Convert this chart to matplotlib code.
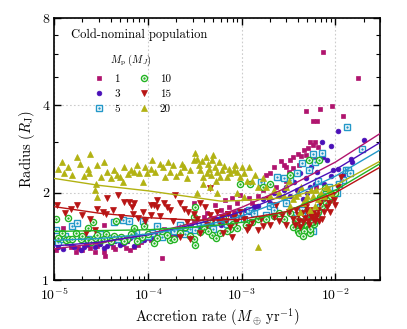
import matplotlib
matplotlib.use("Agg")
import matplotlib.pyplot as plt
from matplotlib.ticker import FixedLocator, LogLocator, NullFormatter, FuncFormatter

plt.rcParams["font.family"] = "serif"
plt.rcParams["font.serif"] = ["cmr10", "DejaVu Serif"]
plt.rcParams["mathtext.fontset"] = "cm"
plt.rcParams["axes.formatter.use_mathtext"] = True

# ---- scatter data: accretion rate (M_earth/yr), radius (R_J)
mdot_1 = [1.05e-5, 1.23e-5, 1.37e-5, 1.7e-5, 1.8e-5, 2.2e-5, 2.4e-5, 2.7e-5, 3.0e-5, 3.4e-5,
          3.4e-5, 3.5e-5, 4.2e-5, 5.0e-5, 5.8e-5, 6.5e-5, 7.1e-5, 8.5e-5, 1.07e-4,
          1.4e-4, 1.2e-4, 1.5e-4, 1.8e-4, 2.2e-4, 2.6e-4, 3.1e-4, 3.1e-4, 3.6e-4, 4.0e-4,
          4.6e-4, 5.2e-4, 5.5e-4, 6.6e-4, 7.0e-4, 7.9e-4, 8.9e-4, 9.7e-4, 9.0e-4, 1.1e-3,
          1.3e-3, 1.5e-3, 1.7e-3, 1.8e-3, 2.0e-3, 2.2e-3, 2.0e-3, 2.4e-3, 2.6e-3, 2.8e-3,
          3.0e-3, 3.0e-3, 3.5e-3, 3.5e-3, 4.0e-3, 4.3e-3, 4.8e-3, 5.1e-3, 5.4e-3, 5.8e-3,
          6.0e-3, 6.5e-3, 4.9e-3, 6.9e-3, 5.7e-3, 6.3e-3, 7.3e-3, 9.3e-3, 1.2e-2, 1.74e-2,
          4.5e-3, 3.8e-3, 6.2e-3,
          1.5e-5, 2.0e-5, 2.9e-5, 4.5e-5, 5.3e-5, 6.0e-5, 7.8e-5, 9.5e-5, 1.3e-4, 1.6e-4,
          2.0e-4, 2.4e-4, 2.9e-4, 3.4e-4, 4.3e-4, 4.9e-4, 6.0e-4, 7.4e-4, 8.3e-4, 1.2e-3,
          1.4e-3, 1.6e-3, 2.3e-3, 3.2e-3, 3.3e-3, 4.1e-3, 4.6e-3, 5.2e-3, 5.6e-3, 6.1e-3]
radius_1 = [1.27, 1.51, 1.34, 1.25, 1.29, 1.32, 1.29, 1.25, 1.33, 1.55,
            1.25, 1.21, 1.30, 1.34, 1.29, 1.27, 1.30, 1.35, 1.37,
            1.19, 1.45, 1.50, 1.42, 1.55, 1.48, 1.84, 1.60, 1.52, 1.65,
            1.58, 1.81, 1.62, 1.88, 1.70, 1.91, 1.84, 1.96, 1.66, 1.75,
            1.85, 1.95, 2.05, 2.30, 2.33, 2.46, 2.15, 2.25, 2.57, 2.49,
            2.45, 2.20, 2.44, 2.66, 2.71, 2.67, 2.69, 2.85, 2.98, 2.92,
            3.00, 2.88, 3.84, 3.90, 3.53, 3.53, 6.09, 3.99, 3.68, 4.98,
            2.55, 2.35, 2.10,
            1.30, 1.27, 1.31, 1.28, 1.33, 1.36, 1.32, 1.40, 1.40, 1.44,
            1.47, 1.50, 1.53, 1.58, 1.70, 1.62, 1.75, 1.78, 1.72, 1.92,
            1.80, 2.20, 2.10, 2.35, 2.60, 2.50, 2.80, 2.60, 2.75, 2.62]

mdot_3 = [1.1e-5, 1.39e-5, 1.64e-5, 1.93e-5, 2.3e-5, 2.7e-5, 3.4e-5, 4.0e-5, 5.1e-5, 6.0e-5,
          7.1e-5, 8.0e-5, 9.1e-5, 1.2e-4, 1.47e-4, 1.7e-4, 2.0e-4, 2.4e-4, 2.8e-4, 3.5e-4,
          4.3e-4, 5.0e-4, 6.0e-4, 7.0e-4, 8.5e-4, 1.0e-3, 1.2e-3, 1.5e-3, 2.0e-3, 2.5e-3,
          3.0e-3, 3.6e-3, 4.2e-3, 4.5e-3, 5.0e-3, 6.0e-3, 6.6e-3, 7.0e-3, 7.2e-3, 7.4e-3,
          8.1e-3, 8.9e-3, 8.9e-3, 1.07e-2, 1.07e-2, 1.2e-2, 1.45e-2, 1.5e-2, 2.0e-2, 5.5e-3,
          4.8e-3,
          1.25e-5, 1.5e-5, 2.1e-5, 2.5e-5, 3.1e-5, 3.7e-5, 4.5e-5, 5.5e-5, 6.5e-5, 7.6e-5,
          1.05e-4, 1.35e-4, 1.85e-4, 2.2e-4, 3.2e-4, 3.9e-4, 4.6e-4, 5.5e-4, 6.5e-4, 7.8e-4,
          9.2e-4, 1.1e-3, 1.35e-3, 1.7e-3, 2.2e-3, 2.8e-3, 3.3e-3, 3.9e-3, 5.3e-3, 6.3e-3,
          7.6e-3, 9.5e-3]
radius_3 = [1.30, 1.35, 1.30, 1.27, 1.33, 1.30, 1.29, 1.34, 1.32, 1.36,
            1.31, 1.38, 1.37, 1.41, 1.45, 1.40, 1.43, 1.47, 1.49, 1.53,
            1.51, 1.58, 1.55, 1.57, 1.64, 1.68, 1.72, 1.80, 1.85, 1.95,
            2.09, 2.18, 2.33, 1.90, 2.00, 2.15, 1.70, 1.95, 2.99, 2.66,
            2.60, 2.90, 2.28, 3.26, 2.42, 2.30, 2.62, 2.55, 3.05, 2.45,
            2.25,
            1.28, 1.32, 1.30, 1.36, 1.33, 1.31, 1.36, 1.34, 1.40, 1.35,
            1.40, 1.42, 1.48, 1.45, 1.50, 1.56, 1.54, 1.62, 1.60, 1.66,
            1.70, 1.75, 1.78, 1.90, 2.00, 2.05, 1.95, 2.05, 2.10, 2.35,
            2.15, 2.40]

mdot_5 = [1.04e-5, 1.1e-5, 1.23e-5, 1.57e-5, 1.77e-5, 2.0e-5, 2.8e-5, 3.5e-5, 4.4e-5, 5.4e-5,
          6.3e-5, 7.5e-5, 8.8e-5, 1.0e-4, 1.25e-4, 1.6e-4, 2.2e-4, 2.8e-4, 3.6e-4, 4.5e-4,
          5.5e-4, 7.0e-4, 8.5e-4, 9.7e-4, 1.2e-3, 1.6e-3, 2.4e-3, 2.8e-3, 3.3e-3, 3.9e-3,
          4.4e-3, 5.7e-3, 7.2e-3, 4.4e-3, 5.4e-3, 6.1e-3, 6.9e-3, 9.2e-3, 1.04e-2, 1.2e-2,
          1.3e-2, 1.35e-2, 1.43e-2, 1.33e-2, 1.9e-2, 5.0e-3, 5.8e-3, 2.0e-3, 3.0e-3, 6.5e-3,
          1.3e-5, 1.45e-5, 2.3e-5, 3.1e-5, 3.9e-5, 4.8e-5, 6.8e-5, 8.0e-5, 1.1e-4, 1.4e-4,
          1.9e-4, 2.5e-4, 3.2e-4, 4.0e-4, 5.0e-4, 6.2e-4, 7.7e-4, 1.05e-3, 1.35e-3, 1.8e-3,
          2.2e-3, 3.6e-3, 4.7e-3, 5.1e-3, 5.5e-3, 6.3e-3, 7.5e-3, 8.0e-3, 8.5e-3, 1.1e-2,
          6.0e-3, 5.2e-3]
radius_5 = [1.49, 1.35, 1.38, 1.53, 1.57, 1.40, 1.37, 1.42, 1.59, 1.61,
            1.60, 1.45, 1.60, 1.42, 1.53, 1.47, 1.55, 1.50, 1.57, 1.52,
            1.59, 1.56, 1.63, 1.72, 1.75, 2.18, 2.27, 2.24, 2.21, 2.33,
            2.54, 2.71, 2.74, 1.74, 1.65, 1.61, 1.79, 1.99, 2.00, 2.21,
            2.39, 2.40, 2.33, 3.37, 2.84, 1.52, 1.48, 1.80, 1.85, 2.20,
            1.42, 1.36, 1.39, 1.44, 1.40, 1.38, 1.43, 1.38, 1.45, 1.41,
            1.48, 1.44, 1.49, 1.55, 1.50, 1.62, 1.58, 1.62, 1.70, 1.68,
            1.75, 1.68, 1.58, 1.72, 1.55, 1.68, 1.85, 2.05, 2.10, 2.15,
            2.55, 2.40]

mdot_10 = [1.04e-5, 1.1e-5, 1.33e-5, 1.39e-5, 1.45e-5, 1.7e-5, 1.93e-5, 2.27e-5, 2.27e-5, 2.6e-5,
           2.7e-5, 3.15e-5, 3.6e-5, 4.0e-5, 4.6e-5, 5.2e-5, 6.0e-5, 7.1e-5, 8.0e-5, 9.1e-5,
           1.0e-4, 1.15e-4, 1.4e-4, 1.73e-4, 2.2e-4, 2.5e-4, 3.1e-4, 3.1e-4, 3.2e-4, 3.2e-4,
           4.0e-4, 4.6e-4, 4.8e-4, 5.9e-4, 6.4e-4, 7.5e-4, 8.9e-4, 9.7e-4, 1.1e-3, 1.23e-3,
           1.5e-3, 1.7e-3, 2.0e-3, 2.2e-3, 2.8e-3, 3.3e-3, 3.3e-3, 3.7e-3, 4.2e-3, 4.4e-3,
           4.8e-3, 5.0e-3, 5.2e-3, 5.6e-3, 5.9e-3, 6.7e-3, 6.9e-3, 7.8e-3, 8.5e-3, 4.0e-3,
           5.4e-3, 1.0e-2,
           1.2e-5, 1.55e-5, 2.0e-5, 2.45e-5, 2.9e-5, 3.4e-5, 4.3e-5, 5.6e-5, 6.6e-5, 7.6e-5,
           8.6e-5, 1.25e-4, 1.6e-4, 1.9e-4, 2.8e-4, 3.6e-4, 4.4e-4, 5.3e-4, 6.9e-4, 8.1e-4,
           1.3e-3, 1.8e-3, 2.5e-3, 3.5e-3, 3.9e-3, 4.1e-3, 4.6e-3, 4.9e-3, 5.3e-3, 5.7e-3,
           6.2e-3, 6.5e-3, 7.2e-3, 8.0e-3, 9.0e-3, 4.5e-3]
radius_10 = [1.62, 1.40, 1.37, 1.63, 1.39, 1.45, 1.39, 1.51, 1.37, 1.59,
             1.40, 1.37, 1.44, 1.36, 1.60, 1.41, 1.38, 1.51, 1.40, 1.53,
             1.44, 1.34, 1.47, 1.37, 1.45, 1.52, 1.39, 1.65, 1.79, 1.32,
             1.50, 1.61, 1.43, 1.45, 1.63, 1.50, 1.51, 2.15, 1.55, 2.15,
             1.62, 2.09, 2.15, 1.66, 1.62, 2.30, 1.70, 1.60, 1.55, 1.59,
             1.52, 1.53, 2.59, 1.67, 1.56, 2.59, 1.94, 2.07, 1.88, 1.48,
             1.45, 2.00,
             1.45, 1.38, 1.42, 1.35, 1.43, 1.39, 1.42, 1.36, 1.44, 1.36,
             1.41, 1.40, 1.43, 1.39, 1.42, 1.46, 1.48, 1.40, 1.47, 1.56,
             1.58, 1.62, 1.70, 1.52, 1.62, 1.45, 1.48, 1.62, 1.50, 1.58,
             1.64, 1.72, 1.80, 1.85, 1.95, 1.42]

mdot_15 = [1.08e-5, 1.3e-5, 1.77e-5, 2.2e-5, 2.7e-5, 2.9e-5, 3.3e-5, 3.6e-5, 3.7e-5, 4.8e-5,
           5.6e-5, 6.3e-5, 7.1e-5, 7.0e-5, 7.8e-5, 8.8e-5, 1.07e-4, 1.07e-4, 1.16e-4, 1.25e-4,
           1.25e-4, 1.47e-4, 1.59e-4, 1.73e-4, 1.95e-4, 2.2e-4, 2.2e-4, 2.4e-4, 2.7e-4, 2.8e-4,
           3.1e-4, 3.6e-4, 3.6e-4, 4.1e-4, 4.6e-4, 4.6e-4, 5.5e-4, 6.2e-4, 6.4e-4, 7.2e-4,
           7.9e-4, 8.2e-4, 9.7e-4, 1.14e-3, 1.2e-3, 1.5e-3, 1.7e-3, 2.0e-3, 2.5e-3, 3.0e-3,
           3.5e-3, 4.0e-3, 4.2e-3, 4.5e-3, 5.0e-3, 5.2e-3, 5.5e-3, 6.0e-3, 6.2e-3, 6.5e-3,
           6.9e-3, 7.2e-3, 7.8e-3, 8.8e-3, 9.2e-3, 1.07e-2, 1.16e-2, 4.8e-3, 5.8e-3, 3.8e-3,
           1.9e-3, 2.3e-3,
           1.5e-5, 2.0e-5, 2.4e-5, 4.2e-5, 5.2e-5, 6.7e-5, 9.4e-5, 1.35e-4, 1.85e-4, 2.6e-4,
           3.3e-4, 4.3e-4, 5.0e-4, 5.8e-4, 6.8e-4, 7.5e-4, 8.6e-4, 1.05e-3, 1.3e-3, 1.6e-3,
           2.2e-3, 2.7e-3, 3.2e-3, 3.7e-3, 4.1e-3, 4.4e-3, 4.7e-3, 5.1e-3, 5.4e-3, 5.7e-3,
           6.4e-3, 6.7e-3, 7.5e-3, 8.2e-3, 8.5e-3, 9.6e-3, 1.0e-2]
radius_15 = [1.81, 1.70, 1.81, 1.45, 1.49, 1.76, 1.72, 1.69, 1.91, 1.96,
             1.86, 1.86, 1.84, 1.69, 1.64, 1.72, 1.81, 1.67, 1.81, 1.79,
             1.88, 1.84, 1.79, 1.74, 1.96, 1.84, 1.41, 1.76, 1.72, 1.39,
             1.69, 1.84, 1.45, 1.79, 2.07, 1.67, 1.72, 1.65, 1.45, 1.69,
             1.41, 1.65, 1.72, 1.49, 1.52, 1.49, 1.53, 1.55, 1.60, 1.55,
             1.62, 1.68, 1.52, 1.58, 1.72, 1.55, 1.66, 1.60, 1.66, 1.75,
             1.84, 1.62, 1.91, 1.72, 1.96, 2.09, 2.27, 1.78, 1.70, 1.75,
             1.90, 1.82,
             1.76, 1.68, 1.62, 1.75, 1.65, 1.78, 1.60, 1.66, 1.60, 1.58,
             1.62, 1.55, 1.62, 1.58, 1.60, 1.52, 1.58, 1.62, 1.58, 1.62,
             1.65, 1.68, 1.72, 1.55, 1.60, 1.70, 1.64, 1.60, 1.75, 1.62,
             1.68, 1.60, 1.72, 1.78, 1.85, 1.88, 1.82]

mdot_20 = [1.2e-5, 1.28e-5, 1.57e-5, 1.75e-5, 2.1e-5, 2.3e-5, 2.35e-5, 2.4e-5, 2.7e-5, 2.8e-5,
           2.9e-5, 2.9e-5, 3.15e-5, 3.7e-5, 4.0e-5, 4.7e-5, 5.1e-5, 5.6e-5, 6.6e-5, 7.1e-5,
           8.1e-5, 8.8e-5, 9.9e-5, 1.07e-4, 1.10e-4, 1.35e-4, 1.53e-4, 1.73e-4, 1.87e-4, 2.2e-4,
           2.4e-4, 2.6e-4, 3.1e-4, 3.2e-4, 3.3e-4, 3.3e-4, 3.6e-4, 3.9e-4, 3.9e-4, 4.2e-4,
           4.3e-4, 4.4e-4, 4.6e-4, 4.8e-4, 5.0e-4, 5.2e-4, 5.5e-4, 5.5e-4, 5.9e-4, 6.2e-4,
           7.0e-4, 7.6e-4, 8.2e-4, 8.9e-4, 8.9e-4, 9.7e-4, 1.05e-3, 1.05e-3, 1.2e-3, 1.3e-3,
           1.48e-3, 1.5e-3, 1.8e-3, 2.0e-3, 2.5e-3, 3.0e-3, 3.5e-3, 4.0e-3, 4.5e-3, 5.0e-3,
           5.5e-3, 6.0e-3, 6.5e-3, 7.0e-3, 8.0e-3, 9.0e-3, 4.2e-3, 5.3e-3,
           1.1e-5, 1.4e-5, 1.9e-5, 3.4e-5, 4.4e-5, 5.4e-5, 6.1e-5, 7.6e-5, 9.3e-5, 1.2e-4,
           1.45e-4, 1.65e-4, 2.0e-4, 2.3e-4, 2.8e-4, 3.5e-4, 3.8e-4, 4.5e-4, 4.7e-4, 5.3e-4,
           5.8e-4, 6.5e-4, 7.3e-4, 8.5e-4, 1.0e-3, 1.15e-3, 1.4e-3, 1.7e-3, 2.2e-3, 2.8e-3,
           3.2e-3, 3.8e-3, 4.3e-3, 4.8e-3, 5.8e-3, 6.2e-3, 7.5e-3, 8.5e-3, 3.3e-3]
radius_20 = [2.55, 2.33, 2.31, 2.66, 2.28, 2.42, 2.33, 2.72, 2.04, 2.15,
             2.49, 1.93, 2.27, 2.36, 2.24, 2.30, 2.27, 2.46, 2.40, 2.36,
             2.33, 2.18, 2.33, 2.42, 2.60, 2.52, 2.27, 2.36, 2.49, 2.36,
             2.45, 2.24, 2.59, 2.75, 2.62, 1.99, 2.39, 2.27, 2.15, 2.66,
             2.33, 2.52, 2.09, 2.59, 2.69, 2.45, 2.36, 1.99, 2.27, 2.39,
             2.27, 2.33, 2.39, 2.36, 1.99, 2.27, 2.33, 1.94, 2.45, 2.20,
             1.30, 2.10, 2.09, 1.95, 2.00, 2.10, 1.90, 2.00, 1.85, 1.95,
             2.05, 1.80, 1.90, 2.00, 2.10, 2.00, 1.72, 1.75,
             2.42, 2.45, 2.52, 2.55, 2.40, 2.18, 2.32, 2.50, 2.45, 2.35,
             2.45, 2.55, 2.28, 2.52, 2.40, 2.50, 2.57, 2.42, 2.30, 2.20,
             2.55, 2.48, 2.42, 2.50, 2.45, 2.20, 2.30, 2.25, 2.05, 1.95,
             2.20, 1.95, 2.10, 1.90, 1.95, 2.05, 1.95, 2.05, 1.80]

fit_mdot = [1e-5, 3e-5, 1e-4, 3e-4, 6e-4, 1e-3, 3e-3, 1e-2, 3e-2]
fit_1 = [1.28, 1.34, 1.44, 1.57, 1.68, 1.78, 2.08, 2.55, 3.20]
fit_3 = [1.31, 1.35, 1.43, 1.55, 1.64, 1.72, 1.98, 2.40, 2.98]
fit_5 = [1.37, 1.39, 1.44, 1.52, 1.59, 1.66, 1.90, 2.28, 2.81]
fit_10 = [1.47, 1.48, 1.49, 1.52, 1.55, 1.58, 1.72, 2.04, 2.52]
fit_15 = [1.79, 1.70, 1.64, 1.61, 1.61, 1.62, 1.72, 2.00, 2.45]
fit_20 = [2.24, 2.12, 2.03, 1.93, 1.87, 1.88, 1.92, 2.12, 2.57]

labels = ["1", "3", "5", "10", "15", "20"]
colors = ["#b0146e", "#4a10b8", "#2398c8", "#22b422", "#b81414", "#b2b212"]

fig = plt.figure(figsize=(4.07, 3.29), dpi=100)
ax = fig.add_axes([0.133, 0.149, 0.801, 0.796])

series = [
    (mdot_1, radius_1, "s", 3.3, True),
    (mdot_3, radius_3, "o", 3.4, True),
    (mdot_5, radius_5, "s", 4.2, False),
    (mdot_10, radius_10, "o", 4.4, False),
    (mdot_15, radius_15, "v", 4.7, True),
    (mdot_20, radius_20, "^", 4.7, True),
]

handles = []
for (mx, ry, mk, ms, filled), c in zip(series, colors):
    if filled:
        h, = ax.plot(mx, ry, ls="none", marker=mk, ms=ms, mfc=c, mec=c, mew=0.5)
        handles.append(h)
    else:
        h1, = ax.plot(mx, ry, ls="none", marker=mk, ms=ms, mfc="white", mec=c, mew=1.0)
        h2, = ax.plot(mx, ry, ls="none", marker=".", ms=1.5, color=c)
        handles.append((h1, h2))

for fit, c in zip([fit_1, fit_3, fit_5, fit_10, fit_15, fit_20], colors):
    ax.plot(fit_mdot, fit, color=c, lw=1.0, zorder=3)

ax.set_xscale("log")
ax.set_yscale("log", base=2)
ax.set_xlim(1e-5, 3e-2)
ax.set_ylim(1, 8)
ax.yaxis.set_major_locator(FixedLocator([1, 2, 4, 8]))
ax.yaxis.set_major_formatter(FuncFormatter(lambda v, p: f"{v:g}"))
ax.yaxis.set_minor_locator(LogLocator(base=10, subs=[3, 5, 6, 7]))
ax.yaxis.set_minor_formatter(NullFormatter())
ax.xaxis.set_minor_locator(LogLocator(base=10, subs=range(2, 10), numticks=20))
ax.xaxis.set_minor_formatter(NullFormatter())

ax.tick_params(which="both", direction="in", top=True, right=True, labelsize=10)
ax.tick_params(which="major", length=5, width=1.0)
ax.tick_params(which="minor", length=3, width=0.8)
ax.tick_params(axis="x", which="major", pad=5)
for s in ax.spines.values():
    s.set_linewidth(1.2)
ax.grid(True, which="major", color="#cccccc", ls=(0, (1.5, 2)), lw=0.8)
ax.set_axisbelow(True)

ax.set_xlabel(r"Accretion rate ($M_\oplus\,\mathrm{yr}^{-1}$)", fontsize=10.5, labelpad=2)
ax.set_ylabel(r"Radius ($R_\mathrm{J}$)", fontsize=10.5, labelpad=4)

ax.text(0.052, 0.935, "Cold-nominal population", transform=ax.transAxes,
        ha="left", va="center", fontsize=9)
leg = ax.legend(handles, labels, ncol=2, loc="upper left", bbox_to_anchor=(0.085, 0.905),
                frameon=False, fontsize=8, title=r"$M_\mathrm{p}\ (M_J)$", title_fontsize=7.5,
                handlelength=1.2, handletextpad=0.8, columnspacing=1.6, labelspacing=0.5)
leg._legend_box.align = "center"

fig.savefig("out.png", dpi=100)
